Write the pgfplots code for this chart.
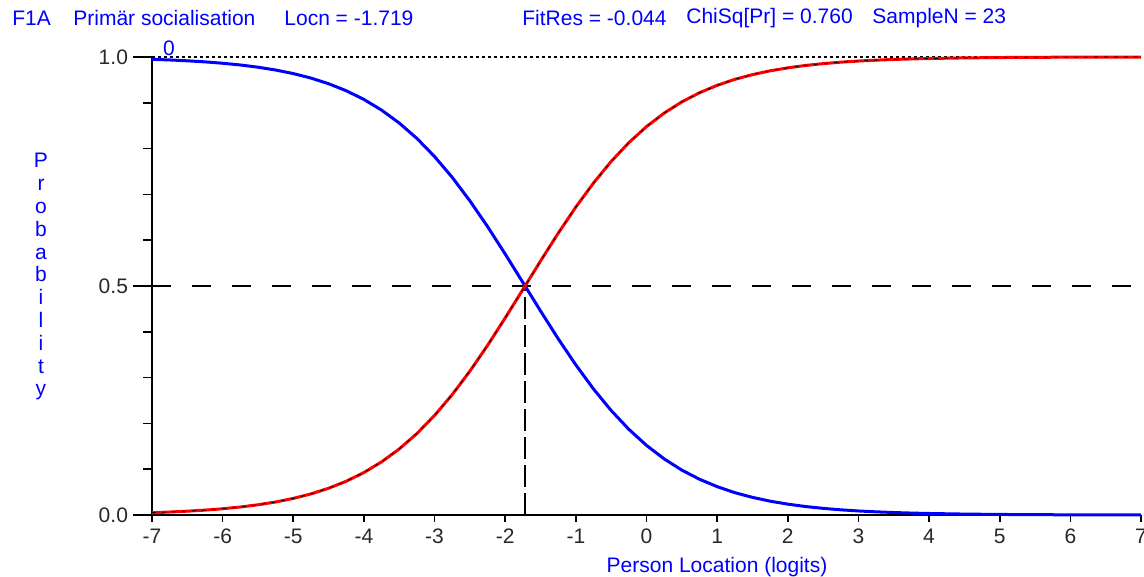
\documentclass[border=0pt]{standalone}
\usepackage{fontspec}
\setmainfont{Liberation Sans}
\usepackage{pgfplots}
\usepackage{pgfplotstable}
\usetikzlibrary{calc}
\pgfplotsset{compat=1.18}
\definecolor{rblue}{RGB}{0,0,255}
\definecolor{rred}{RGB}{255,0,0}
\definecolor{ticktext}{RGB}{40,40,40}

\pgfplotstableread{
x p0 p1
-7 0.99494 0.00506
-6.75 0.99351 0.00649
-6.5 0.99168 0.00832
-6.25 0.98934 0.01066
-6 0.98636 0.01364
-5.75 0.98256 0.01744
-5.5 0.97771 0.02229
-5.25 0.97156 0.02844
-5 0.96377 0.03623
-4.75 0.95396 0.04604
-4.5 0.94164 0.05836
-4.25 0.92629 0.07371
-4 0.90729 0.09271
-3.75 0.8840 0.1160
-3.5 0.8558 0.1442
-3.25 0.8222 0.1778
-3 0.7826 0.2174
-2.75 0.7371 0.2629
-2.5 0.6859 0.3141
-2.25 0.6297 0.3703
-2 0.5697 0.4303
-1.75 0.5077 0.4923
-1.719 0.5 0.5
-1.5 0.4455 0.5545
-1.25 0.3848 0.6152
-1 0.3276 0.6724
-0.75 0.2751 0.7249
-0.5 0.2281 0.7719
-0.25 0.1871 0.8129
0 0.1520 0.8480
0.25 0.1225 0.8775
0.5 0.0980 0.9020
0.75 0.0781 0.9219
1 0.0619 0.9381
1.25 0.0488 0.9512
1.5 0.0385 0.9615
1.75 0.0302 0.9698
2 0.0237 0.9763
2.25 0.0185 0.9815
2.5 0.0145 0.9855
2.75 0.0113 0.9887
3 0.0088 0.9912
3.25 0.0069 0.9931
3.5 0.0054 0.9946
3.75 0.0042 0.9958
4 0.0033 0.9967
4.5 0.0020 0.9980
5 0.0012 0.9988
5.5 0.0007 0.9993
6 0.0004 0.9996
6.5 0.0003 0.9997
7 0.0002 0.9998
}\probdata

\newcommand\px[2]{({(#1)*0.5pt-76pt},{257.5pt-(#2)*0.5pt})}

\begin{document}
\begin{tikzpicture}[font=\fontsize{10.5pt}{12pt}\selectfont]
\useasboundingbox (-76pt,-31pt) rectangle (496pt,257.5pt);
\begin{axis}[name=ax, at={(0,0)}, anchor=south west,
  scale only axis, width=494.5pt, height=229pt,
  xmin=-7, xmax=7, ymin=0, ymax=1,
  axis lines*=left,
  axis line style={line width=1.4pt, black},
  xtick={-7,...,7},
  ytick={0,0.5,1}, yticklabels={0.0,0.5,1.0},
  minor ytick={0.1,0.2,0.3,0.4,0.6,0.7,0.8,0.9},
  tick align=outside, major tick length=3.5pt, minor tick length=4.5pt,
  tick style={black, line width=0.8pt},
  ticklabel style={text=ticktext, font=\fontsize{10.5pt}{12pt}\selectfont},
  /pgf/number format/assume math mode=true,
  yticklabel style={anchor=east, xshift=-5pt},
  clip=false,
]
\addplot[black, line width=0.6pt, dash pattern=on 1.5pt off 1.5pt] coordinates {(-7,1) (7,1)};
\addplot[black, line width=0.6pt, dash pattern=on 9.5pt off 10.5pt] coordinates {(-7,0.5) (7,0.5)};
\addplot[black, line width=0.6pt, dash pattern=on 11pt off 3pt] coordinates {(-1.719,0) (-1.719,0.5)};
\addplot[rblue, line width=1.5pt] table[x=x, y=p0] {\probdata};
\addplot[rred, line width=1.5pt] table[x=x, y=p1] {\probdata};
\addplot[black, line width=0.4pt, dash pattern=on 2pt off 3pt] table[x=x, y=p1] {\probdata};
\end{axis}
\draw[black, line width=0.8pt] (ax.south west) -- ++(-9.5pt,0);
\draw[black, line width=0.8pt] ($(ax.south west)!0.5!(ax.north west)$) -- ++(-9.5pt,0);
\draw[black, line width=0.8pt] (ax.north west) -- ++(-9.5pt,0);
\begin{scope}[every node/.style={anchor=west, text=rblue, inner sep=0pt}]
\node at \px{12}{18} {F1A};
\node at \px{73}{18} {Primär socialisation};
\node at \px{284}{18} {Locn = -1.719};
\node at \px{522}{18} {FitRes = -0.044};
\node at \px{686}{18} {ChiSq[Pr] = 0.760};
\node at \px{872}{18} {SampleN = 23};
\end{scope}
\node[text=rblue, inner sep=0pt] at \px{169}{48} {0};
\foreach \l [count=\i from 0] in {P,r,o,b,a,b,i,l,i,t,y}
  \node[anchor=base, text=rblue, inner sep=0pt] at \px{41}{168+22.8*\i} {\l};
\node[anchor=base, text=rblue, inner sep=0pt] at \px{717}{572} {Person Location (logits)};
\end{tikzpicture}
\end{document}
